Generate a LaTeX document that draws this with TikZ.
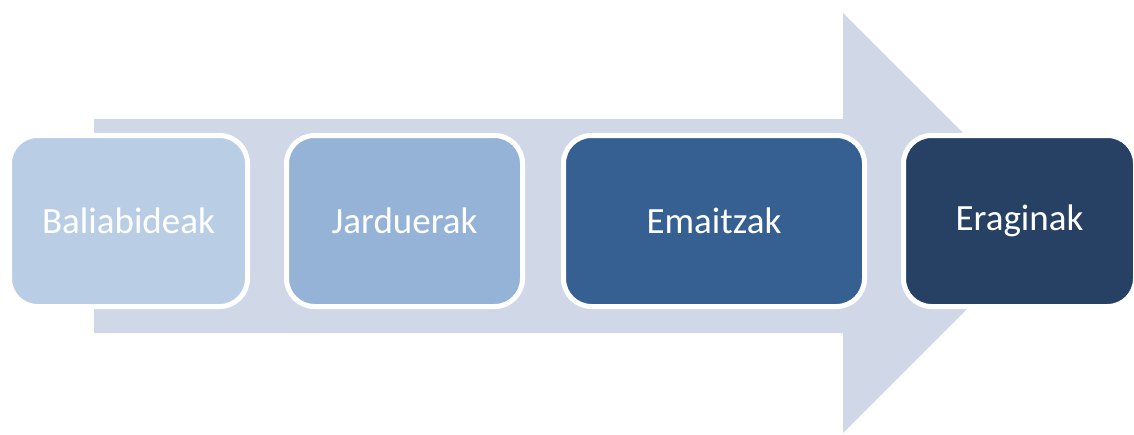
\documentclass[tikz,border=0pt]{standalone}
\usepackage{fontspec}
\setmainfont{Carlito}
\definecolor{arrowcol}{RGB}{208,216,232}
\definecolor{c1}{RGB}{185,205,229}
\definecolor{c2}{RGB}{149,179,215}
\definecolor{c3}{RGB}{54,96,146}
\definecolor{c4}{RGB}{38,65,100}
\tikzset{
  stage/.style={rectangle, rounded corners=28pt, draw=white, line width=5pt,
    minimum height=171pt, inner sep=0pt, text=white, font=\fontsize{37}{42}\selectfont}
}
\begin{document}
\begin{tikzpicture}[x=1pt,y=-1pt]
\useasboundingbox (0,0) rectangle (1134,434);
\fill[arrowcol] (94,119) -- (843,119) -- (843,13) -- (1053,223) -- (843,433) -- (843,333) -- (94,333) -- cycle;
\node[stage, fill=c1, minimum width=238pt] (n1) at (128.5,221) {Baliabideak};
\node[stage, fill=c2, minimum width=236pt] (n2) at (404.5,221) {Jarduerak};
\node[stage, fill=c3, minimum width=301pt] (n3) at (714,221) {Emaitzak};
\node[stage, fill=c4, minimum width=232pt] (n4) at (1019.5,221) {Eraginak};
\end{tikzpicture}
\end{document}
